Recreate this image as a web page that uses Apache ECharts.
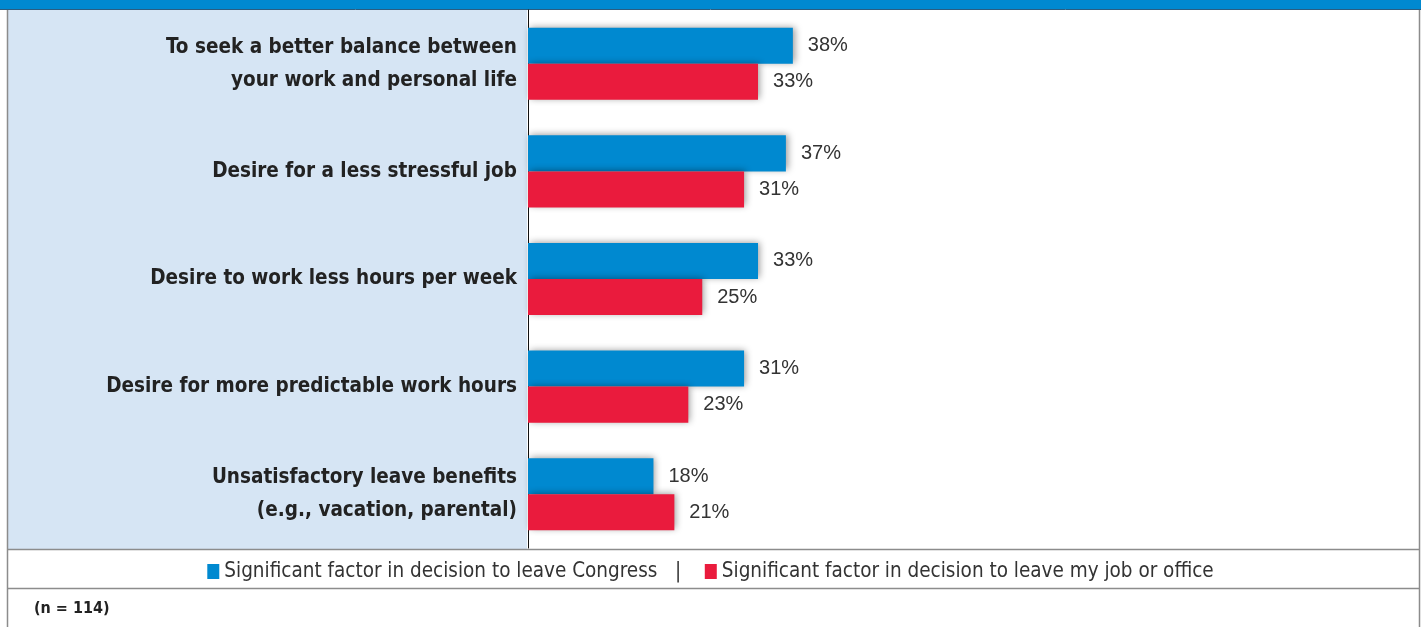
<!DOCTYPE html>
<html>
<head>
<meta charset="utf-8">
<script src="https://cdn.jsdelivr.net/npm/echarts@6/dist/echarts.min.js"></script>
<style>
  html, body { margin: 0; padding: 0; background: #fff; }
  #chart { width: 1421px; height: 627px; }
</style>
</head>
<body>
<div id="chart"></div>
<script>
// ----------data----------
const categories = [
  'To seek a better balance between\nyour work and personal life',
  'Desire for a less stressful job',
  'Desire to work less hours per week',
  'Desire for more predictable work hours',
  'Unsatisfactory leave benefits\n(e.g., vacation, parental)',
];
const seriesNames = [
  'Significant factor in decision to leave Congress',
  'Significant factor in decision to leave my job or office',
];
const congressValues = [38, 37, 33, 31, 18];
const jobValues = [33, 31, 25, 23, 21];
const noteText = '(n = 114)';

// ----------style----------
const BLUE = '#0089d0';
const RED = '#ea1b3d';
const PANEL = '#d6e5f4';
const BORDER = '#8c8c8c';
const condensed = '"Liberation Sans Narrow", "DejaVu Sans Condensed", sans-serif';

const chart = echarts.init(document.getElementById('chart'));

const barSeries = (name, data, color) => ({
  name,
  type: 'bar',
  data,
  barGap: '0%',
  barCategoryGap: '33%',
  itemStyle: {
    color,
    shadowColor: 'rgba(0,0,0,0.4)',
    shadowBlur: 7,
    shadowOffsetX: 2,
    shadowOffsetY: -1,
  },
  label: {
    show: true,
    position: 'right',
    distance: 15,
    formatter: '{c}%',
    color: '#333',
    fontSize: 20,
    fontFamily: '"Liberation Sans", Arial, sans-serif',
  },
});

chart.setOption({
  backgroundColor: '#fff',
  animation: false,
  graphic: [
    // top band
    { type: 'rect', shape: { x: 0, y: 0, width: 1421, height: 9 }, style: { fill: BLUE }, z: 0 },
    { type: 'line', shape: { x1: 0, y1: 9.5, x2: 1421, y2: 9.5 }, style: { stroke: '#2b5d80', lineWidth: 1 } },
    // label panel
    { type: 'rect', shape: { x: 8, y: 10, width: 519, height: 539 }, style: { fill: PANEL }, z: -10 },
    // frame
    { type: 'line', shape: { x1: 7.5, y1: 10, x2: 7.5, y2: 627 }, style: { stroke: BORDER, lineWidth: 1.5 } },
    { type: 'line', shape: { x1: 1419.5, y1: 10, x2: 1419.5, y2: 627 }, style: { stroke: BORDER, lineWidth: 1.5 } },
    { type: 'line', shape: { x1: 7, y1: 549.5, x2: 1420, y2: 549.5 }, style: { stroke: BORDER, lineWidth: 1.5 } },
    { type: 'line', shape: { x1: 7, y1: 588.5, x2: 1420, y2: 588.5 }, style: { stroke: BORDER, lineWidth: 1.5 } },
    // sample size note
    {
      type: 'text', left: 34, top: 601,
      style: { text: noteText, fill: '#222', fontSize: 16, fontWeight: 'bold', fontFamily: condensed },
    },
  ],
  legend: {
    data: seriesNames,
    left: 'center',
    top: 556,
    icon: 'rect',
    itemWidth: 12,
    itemHeight: 15,
    itemGap: 6,
    selectedMode: false,
    formatter: (name) => (name === seriesNames[0] ? name + '{sep|   |   }' : name),
    textStyle: {
      color: '#333',
      fontSize: 20.5,
      fontFamily: condensed,
      rich: { sep: { color: '#333', fontSize: 20.5, fontFamily: condensed } },
    },
  },
  grid: {
    left: 528,
    top: 10,
    width: 697,
    height: 538,
  },
  xAxis: {
    type: 'value',
    min: 0,
    max: 100,
    show: false,
  },
  yAxis: {
    type: 'category',
    data: categories,
    inverse: true,
    axisLine: { show: true, lineStyle: { color: '#111', width: 1 } },
    axisTick: { show: false },
    axisLabel: {
      margin: 11,
      color: '#222',
      fontSize: 20.5,
      fontWeight: 'bold',
      lineHeight: 33,
      align: 'right',
      fontFamily: condensed,
    },
  },
  series: [
    barSeries(seriesNames[0], congressValues, BLUE),
    barSeries(seriesNames[1], jobValues, RED),
  ],
});
</script>
</body>
</html>
